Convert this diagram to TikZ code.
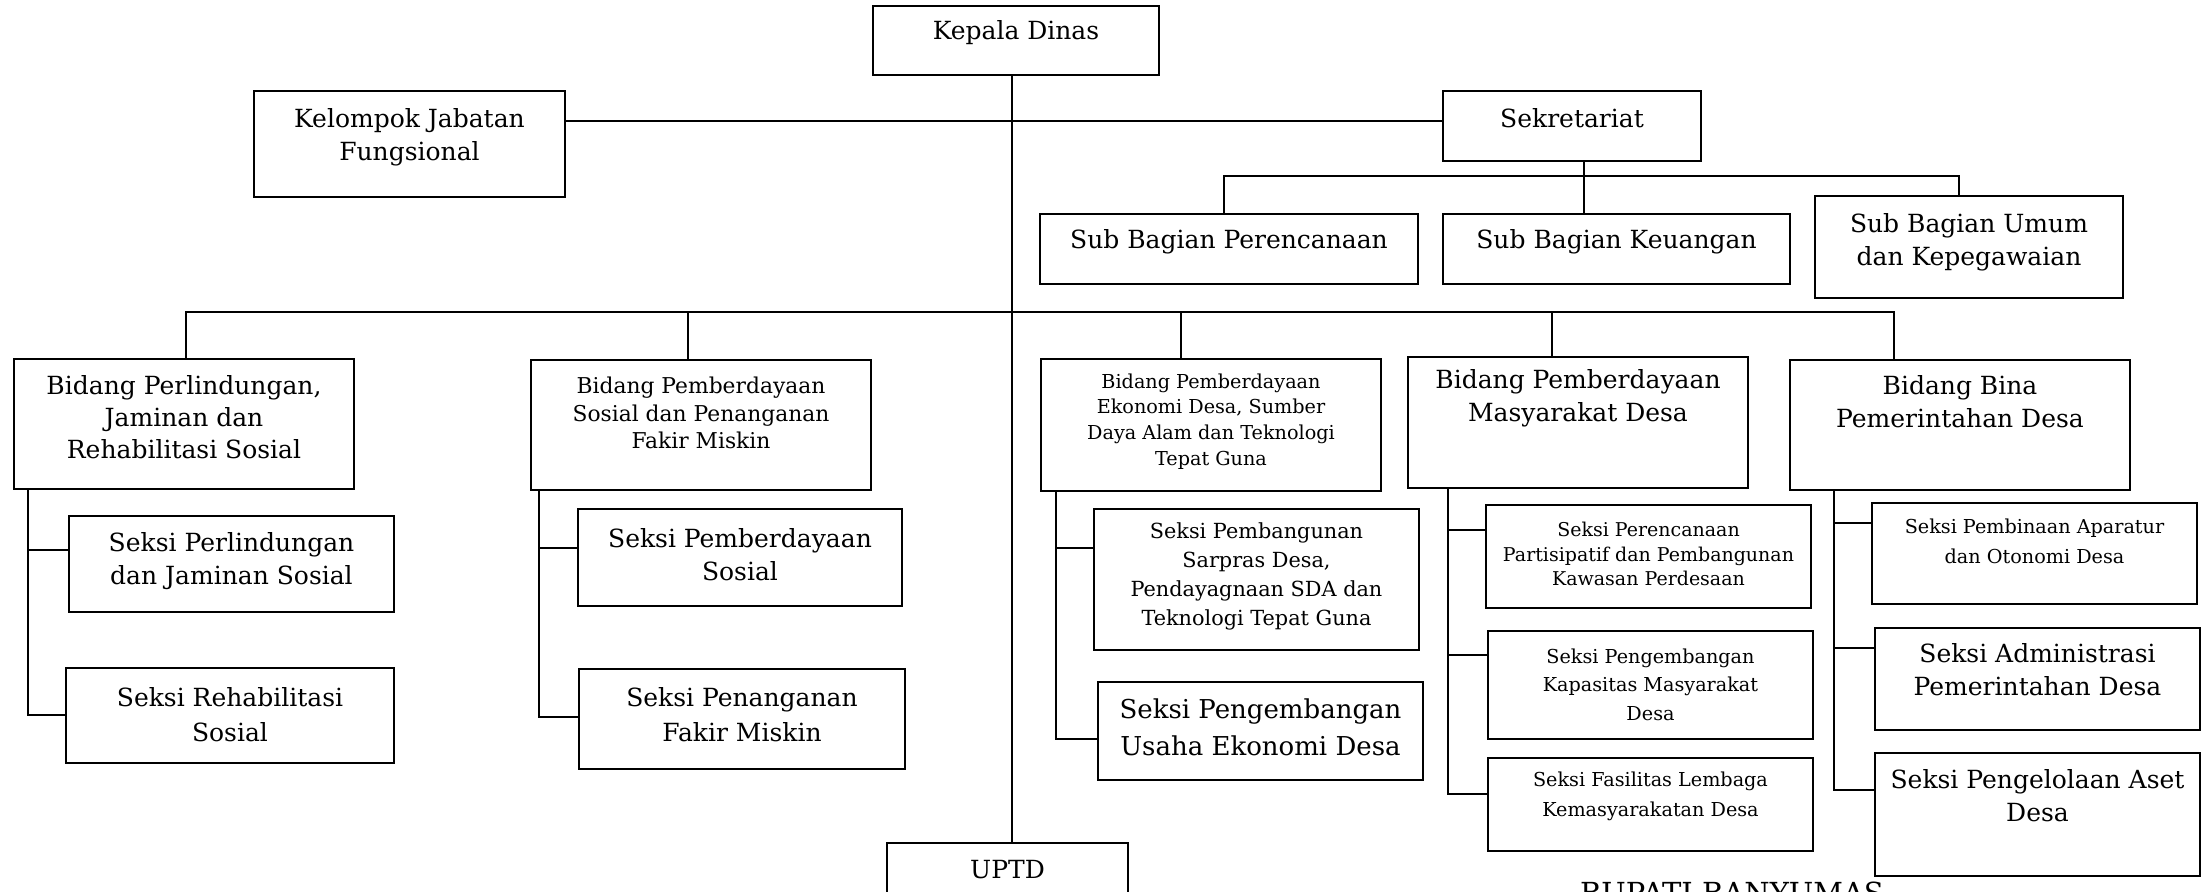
\documentclass[tikz,border=0pt]{standalone}
\usepackage{fontspec}
\setmainfont{DejaVu Serif}
\usetikzlibrary{fit,calc}
\tikzset{
  box/.style={draw=black, line width=1.2pt, inner sep=0pt},
  txt/.style={align=center, inner sep=0pt},
  con/.style={draw=black, line width=0.9pt},
  fbase/.style={font=\fontsize{12.5}{16.5}\selectfont},
  fbigger/.style={font=\fontsize{13}{18.5}\selectfont},
}
\newcommand\obox[5]{\node[box, fit={(#2,#3)(#4,#5)}] (#1) {};}
\begin{document}
\begin{tikzpicture}[x=0.5pt,y=-0.5pt]
\useasboundingbox (0,0) rectangle (2208,892);
\clip (0,0) rectangle (2208,892);
% boxes
\obox{kd}{873}{6}{1159}{75}
\obox{kjf}{254}{91}{565}{197}
\obox{sek}{1443}{91}{1701}{161}
\obox{sb1}{1040}{214}{1418}{284}
\obox{sb2}{1443}{214}{1790}{284}
\obox{sb3}{1815}{196}{2123}{298}
\obox{b1}{14}{359}{354}{489}
\obox{b2}{531}{360}{871}{490}
\obox{b3}{1041}{359}{1381}{491}
\obox{b4}{1408}{357}{1748}{488}
\obox{b5}{1790}{360}{2130}{490}
\obox{s11}{69}{516}{394}{612}
\obox{s12}{66}{668}{394}{763}
\obox{s21}{578}{509}{902}{606}
\obox{s22}{579}{669}{905}{769}
\obox{s31}{1094}{509}{1419}{650}
\obox{s32}{1098}{682}{1423}{780}
\obox{s41}{1486}{505}{1811}{608}
\obox{s42}{1488}{631}{1813}{739}
\obox{s43}{1488}{758}{1813}{851}
\obox{s51}{1872}{503}{2197}{604}
\obox{s52}{1875}{628}{2200}{730}
\obox{s53}{1875}{753}{2200}{876}
\obox{uptd}{887}{843}{1128}{930}
% texts
\node[txt,fbase] (tkd) at (1016,33) {Kepala Dinas};
\node[txt,fbase] (tkjf) at (409.5,137.5) {Kelompok Jabatan\\Fungsional};
\node[txt,fbase] (tsek) at (1572,118) {Sekretariat};
\node[txt,fbase] (tsb1) at (1229,242) {Sub Bagian Perencanaan};
\node[txt,fbase] (tsb2) at (1616.5,242) {Sub Bagian Keuangan};
\node[txt,fbase] (tsb3) at (1969,242) {Sub Bagian Umum\\dan Kepegawaian};
\node[txt,font=\fontsize{12.5}{16}\selectfont] (tb1) at (184,417) {Bidang Perlindungan,\\Jaminan dan\\Rehabilitasi Sosial};
\node[txt,font=\fontsize{10.9}{13.75}\selectfont] (tb2) at (701,413) {Bidang Pemberdayaan\\Sosial dan Penanganan\\Fakir Miskin};
\node[txt,font=\fontsize{9.6}{12.9}\selectfont] (tb3) at (1211,421.5) {Bidang Pemberdayaan\\Ekonomi Desa, Sumber\\Daya Alam dan Teknologi\\Tepat Guna};
\node[txt,fbase] (tb4) at (1578,398.5) {Bidang Pemberdayaan\\Masyarakat Desa};
\node[txt,fbase] (tb5) at (1960,401.5) {Bidang Bina\\Pemerintahan Desa};
\node[txt,fbase] (ts11) at (231.5,561.5) {Seksi Perlindungan\\dan Jaminan Sosial};
\node[txt,font=\fontsize{12.5}{17.5}\selectfont] (ts12) at (230,714.5) {Seksi Rehabilitasi\\Sosial};
\node[txt,fbase] (ts21) at (740,555) {Seksi Pemberdayaan\\Sosial};
\node[txt,font=\fontsize{12.5}{17.5}\selectfont] (ts22) at (742,714.5) {Seksi Penanganan\\Fakir Miskin};
\node[txt,font=\fontsize{10.4}{14.5}\selectfont] (ts31) at (1256.5,576.5) {Seksi Pembangunan\\Sarpras Desa,\\Pendayagnaan SDA dan\\Teknologi Tepat Guna};
\node[txt,fbigger] (ts32) at (1260.5,727.5) {Seksi Pengembangan\\Usaha Ekonomi Desa};
\node[txt,font=\fontsize{9.5}{12.25}\selectfont] (ts41) at (1648.5,554) {Seksi Perencanaan\\Partisipatif dan Pembangunan\\Kawasan Perdesaan};
\node[txt,font=\fontsize{9.6}{14.25}\selectfont] (ts42) at (1650.5,684.5) {Seksi Pengembangan\\Kapasitas Masyarakat\\Desa};
\node[txt,font=\fontsize{9.6}{15}\selectfont] (ts43) at (1650.5,796) {Seksi Fasilitas Lembaga\\Kemasyarakatan Desa};
\node[txt,font=\fontsize{9.6}{15}\selectfont] (ts51) at (2034.5,541) {Seksi Pembinaan Aparatur\\dan Otonomi Desa};
\node[txt,fbase] (ts52) at (2037.5,669.5) {Seksi Administrasi\\Pemerintahan Desa};
\node[txt,fbase] (ts53) at (2037.5,795.5) {Seksi Pengelolaan Aset\\Desa};
\node[txt,fbase] (tuptd) at (1007.5,870) {UPTD};
\node[txt,font=\fontsize{14.5}{17}\selectfont,anchor=base] (bupati) at (1732,904) {BUPATI BANYUMAS};
% connectors: top
\coordinate (mainx) at (1012,0);
\draw[con] (mainx |- kd.south) -- (mainx |- uptd.north);
\coordinate (kjfy) at (0,121);
\draw[con] (kjf.east |- kjfy) -- (sek.west |- kjfy);
\coordinate (sekx) at (1584,0);
\coordinate (seky) at (0,176);
\draw[con] (sekx |- sek.south) -- (sekx |- sb2.north);
\coordinate (sbl) at (1224,176);
\coordinate (sbr) at (1959,176);
\draw[con] (sbl |- sb1.north) -- (sbl) -- (sbr) -- (sbr |- sb3.north);
% main bus
\coordinate (d1) at (186,312);
\coordinate (d2) at (688,312);
\coordinate (d3) at (1181,312);
\coordinate (d4) at (1552,312);
\coordinate (d5) at (1894,312);
\draw[con] (d1 |- b1.north) -- (d1) -- (d5) -- (d5 |- b5.north);
\draw[con] (d2) -- (d2 |- b2.north);
\draw[con] (d3) -- (d3 |- b3.north);
\draw[con] (d4) -- (d4 |- b4.north);
% column 1
\coordinate (h11) at (28,550);
\coordinate (h12) at (28,715);
\draw[con] (h11 |- b1.south) -- (h12) -- (h12 -| s12.west);
\draw[con] (h11) -- (h11 -| s11.west);
% column 2
\coordinate (h21) at (539,548);
\coordinate (h22) at (539,717);
\draw[con] (h21 |- b2.south) -- (h22) -- (h22 -| s22.west);
\draw[con] (h21) -- (h21 -| s21.west);
% column 3
\coordinate (h31) at (1056,548);
\coordinate (h32) at (1056,739);
\draw[con] (h31 |- b3.south) -- (h32) -- (h32 -| s32.west);
\draw[con] (h31) -- (h31 -| s31.west);
% column 4
\coordinate (h41) at (1448,530);
\coordinate (h42) at (1448,655);
\coordinate (h43) at (1448,794);
\draw[con] (h41 |- b4.south) -- (h43) -- (h43 -| s43.west);
\draw[con] (h41) -- (h41 -| s41.west);
\draw[con] (h42) -- (h42 -| s42.west);
% column 5
\coordinate (h51) at (1834,523);
\coordinate (h52) at (1834,648);
\coordinate (h53) at (1834,790);
\draw[con] (h51 |- b5.south) -- (h53) -- (h53 -| s53.west);
\draw[con] (h51) -- (h51 -| s51.west);
\draw[con] (h52) -- (h52 -| s52.west);
\end{tikzpicture}
\end{document}
